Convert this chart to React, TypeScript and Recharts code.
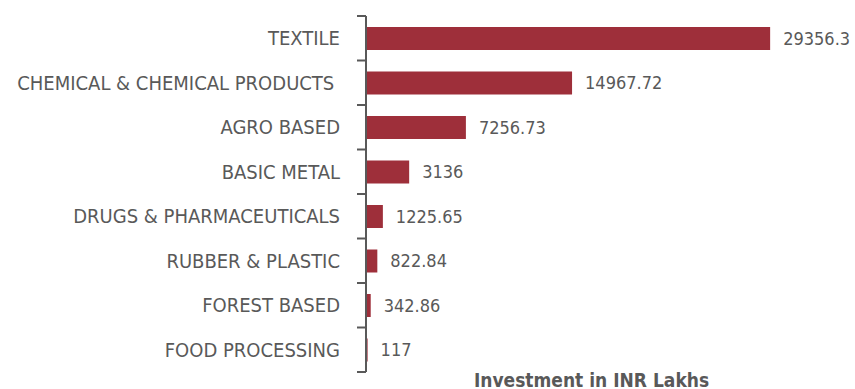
import { BarChart, Bar, XAxis, YAxis, LabelList } from 'recharts'

const categories = [
  'TEXTILE',
  'CHEMICAL & CHEMICAL PRODUCTS\u00a0',
  'AGRO BASED',
  'BASIC METAL',
  'DRUGS & PHARMACEUTICALS',
  'RUBBER & PLASTIC',
  'FOREST BASED',
  'FOOD PROCESSING',
]

const investment = [29356.3, 14967.72, 7256.73, 3136, 1225.65, 822.84, 342.86, 117]

const data = categories.map((name, i) => ({ name, value: investment[i] }))

const WIDTH = 855
const HEIGHT = 389
const TOP = 16
const BOTTOM_AXIS = 17
const FONT = '"Liberation Sans Narrow", "Arial Narrow", "DejaVu Sans Condensed", sans-serif'
const GREY = '#595959'
const BAR = '#9E2F3A'

const band = (HEIGHT - TOP - BOTTOM_AXIS) / categories.length

// Excel style: tick marks sit between categories, not at their centres
function CategoryTick(props: any) {
  const { x, y, payload, index } = props
  const axisX = x + 26
  const last = index === categories.length - 1
  return (
    <g>
      <line x1={axisX - 9} x2={axisX} y1={y - band / 2} y2={y - band / 2} stroke={GREY} strokeWidth={2} />
      {last && (
        <line x1={axisX - 9} x2={axisX} y1={y + band / 2} y2={y + band / 2} stroke={GREY} strokeWidth={2} />
      )}
      <text x={x} y={y} textAnchor="end" dominantBaseline="central" fill={GREY} fontSize={20} fontFamily={FONT}>
        {payload.value}
      </text>
    </g>
  )
}

export default function App() {
  return (
    <div style={{ position: 'absolute', left: 0, top: 0, background: '#fff' }}>
      <BarChart
        width={WIDTH}
        height={HEIGHT}
        data={data}
        layout="vertical"
        margin={{ top: TOP, right: 76, bottom: 0, left: 0 }}
        barCategoryGap="48%"
      >
        <XAxis
          type="number"
          domain={[0, 30000]}
          axisLine={false}
          tickLine={false}
          tick={false}
          height={BOTTOM_AXIS}
          label={{
            value: 'Investment in INR Lakhs',
            position: 'center',
            dx: 19,
            dy: 0,
            fill: GREY,
            fontSize: 19,
            fontWeight: 'bold',
            fontFamily: FONT,
          }}
        />
        <YAxis
          type="category"
          dataKey="name"
          width={366}
          axisLine={{ stroke: GREY, strokeWidth: 2 }}
          tickLine={false}
          tickSize={0}
          tickMargin={26}
          tick={<CategoryTick />}
          interval={0}
        />
        <Bar dataKey="value" fill={BAR} barSize={23} isAnimationActive={false}>
          <LabelList
            dataKey="value"
            position="right"
            offset={13}
            fill={GREY}
            fontSize={18}
            fontFamily={FONT}
          />
        </Bar>
      </BarChart>
    </div>
  )
}
